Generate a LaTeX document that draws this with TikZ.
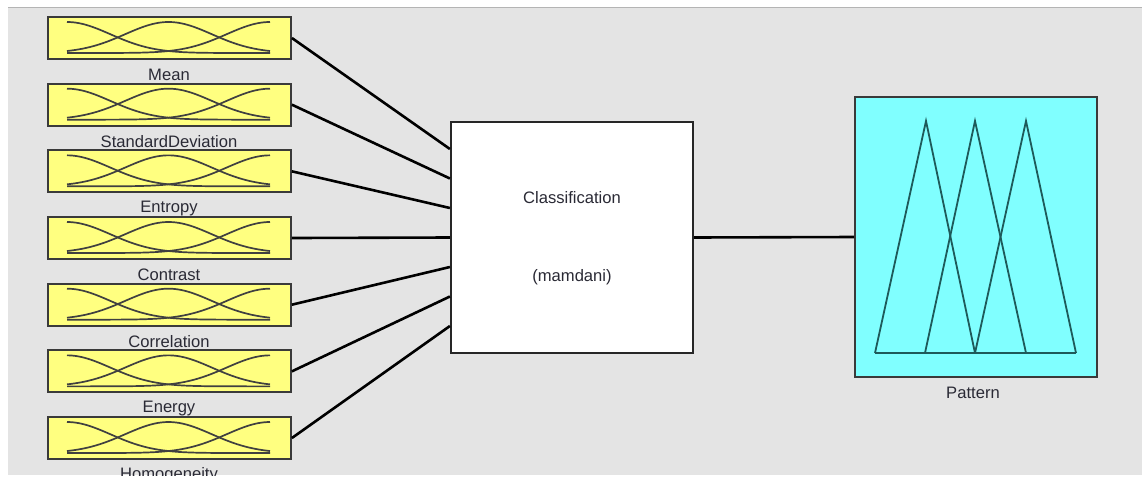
\documentclass[tikz,border=0pt]{standalone}
\usepackage{fontspec}
\setmainfont{Liberation Sans}
\definecolor{bggray}{HTML}{E4E4E4}
\definecolor{edgegray}{HTML}{B4B4B4}
\definecolor{mfyellow}{HTML}{FFFF80}
\definecolor{mfcyan}{HTML}{80FFFF}
\definecolor{boxedge}{HTML}{3A3A3A}
\definecolor{txt}{HTML}{2A2A35}
\definecolor{tricol}{HTML}{1E5A5A}
\begin{document}
\begin{tikzpicture}[x=1pt,y=-1pt,
  font=\fontsize{16.6}{20}\selectfont,
  inbox/.style={draw=boxedge, line width=1.8pt, fill=mfyellow, minimum width=243pt, minimum height=42pt, inner sep=0pt},
  fisbox/.style={draw=black!85, line width=2.2pt, fill=white, minimum width=242pt, minimum height=231pt, inner sep=0pt},
  outbox/.style={draw=boxedge, line width=1.8pt, fill=mfcyan, minimum width=242pt, minimum height=280pt, inner sep=0pt},
  lbl/.style={text=txt, inner sep=0pt},
  conn/.style={draw=black, line width=2.6pt},
  mf/.style={draw=black!75, line width=1.7pt},
  tri/.style={draw=tricol, line width=1.8pt, line join=miter}]
\useasboundingbox (0,0) rectangle (1144,477);
\fill[white] (0,0) rectangle (1144,477);
\fill[bggray] (8,8) rectangle (1142,475);
\draw[edgegray, line width=1.2pt] (8,7.6) -- (1142,7.6);

% central FIS box
\node[fisbox] (fis) at (572,237.5) {};
\node[lbl] (fisname) at (572,198) {Classification};
\node[lbl] (fistype) at (572,277) {(mamdani)};

% output box
\node[outbox] (pattern) at (976,237) {};
\node[lbl] (patternlbl) at (973,393) {Pattern};
\draw[tri] (875,353) -- (926,121) -- (975,353);
\draw[tri] (925,353) -- (975,121) -- (1026,353);
\draw[tri] (975,353) -- (1026,121) -- (1076,353);
\draw[tri] (875,353) -- (1076,353);

% inputs
\begin{scope}
\clip (8,8) rectangle (1142,475);
\foreach \name [count=\i] in {Mean,StandardDeviation,Entropy,Contrast,Correlation,Energy,Homogeneity}{
  \pgfmathsetmacro{\yt}{17+(\i-1)*66.67}
  \pgfmathsetmacro{\yb}{\yt+36}
  \node[inbox] (in\i) at (169.5,\yt+21) {};
  \foreach \c in {67,168.5,270}{
    \draw[mf] plot[domain=67:270, samples=70, smooth] (\x, {\yb - 31*exp(-0.5*((\x-\c)/43.3)^2)});
  }
  \node[lbl] (lbl\i) at (169,\yt+58) {\name};
}
\end{scope}

% connectors
\foreach \i in {1,...,7}{
  \pgfmathsetmacro{\off}{(4-\i)*29.5}
  \draw[conn] (in\i.east) -- ([yshift=\off pt]fis.west);
}
\draw[conn] (fis.east) -- (pattern.west);
\end{tikzpicture}
\end{document}
